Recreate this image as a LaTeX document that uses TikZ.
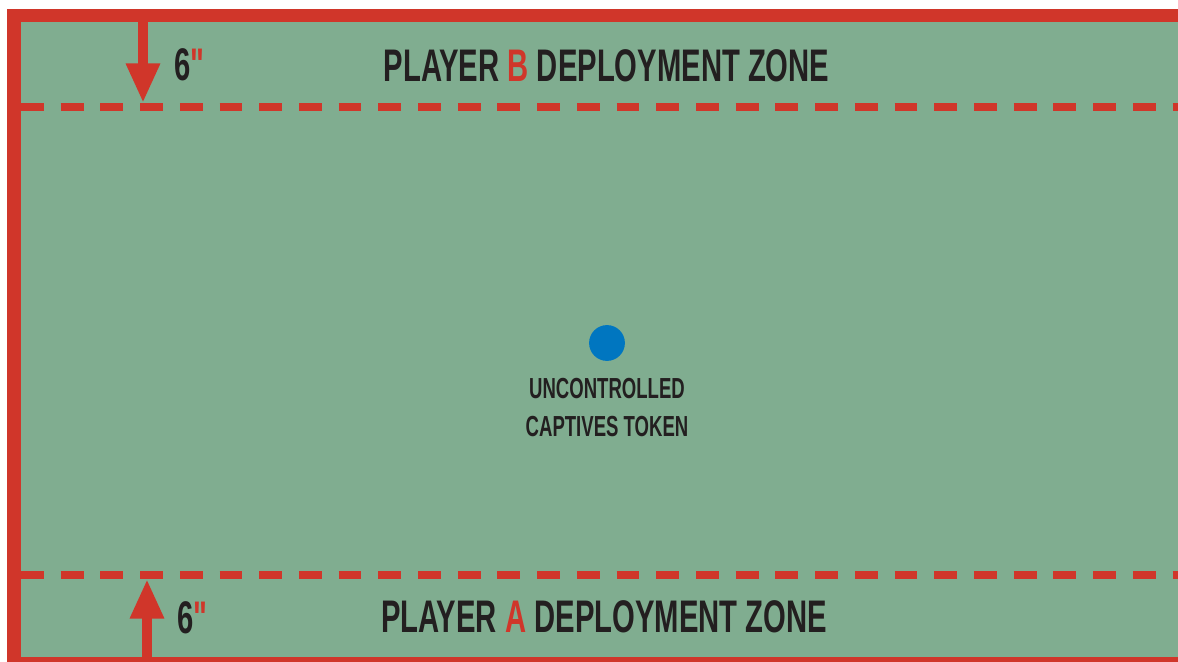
\documentclass[tikz,border=0pt]{standalone}
\usepackage{fontspec}
\usetikzlibrary{positioning, calc, arrows.meta}
\newfontfamily\zonefont[FakeStretch=0.64]{Liberation Sans}
\definecolor{Felt}{HTML}{80AD90}
\definecolor{Edge}{HTML}{D0362A}
\definecolor{Ink}{HTML}{231F20}
\definecolor{Token}{HTML}{0076C0}
\tikzset{
    zonelabel/.style={inner sep=0pt, text=Ink, font=\zonefont\bfseries\fontsize{26}{30}\selectfont},
    tokenlabel/.style={inner sep=0pt, text=Ink, align=center, font=\zonefont\bfseries\fontsize{16.5}{21.5}\selectfont},
    zoneline/.style={draw=Edge, line width=4.5pt, dash pattern=on 13pt off 9.6pt},
    measure/.style={draw=Edge, line width=5.7pt, -{Triangle[width=18pt, length=22.5pt]}},
}
\begin{document}
\begin{tikzpicture}[x=0.02cm, y=-0.02cm]
                \useasboundingbox (0,0) rectangle (1178,662);
                % Table and edges
                \fill[Felt] (21,22) rectangle (1178,657);
                \fill[Edge] (7,9.5) rectangle (1178,22.5);
                \fill[Edge] (7,9.5) rectangle (21,662);
                \fill[Edge] (7,657) rectangle (1178,662);

                % Deployment lines
                \coordinate (lineB) at (21,107);
                \coordinate (lineBend) at (1178,107);
                \coordinate (lineA) at (21,575);
                \coordinate (lineAend) at (1178,575);
                \draw[zoneline] (lineB) -- (lineBend);
                \draw[zoneline] (lineA) -- (lineAend);

                % Distance arrows
                \coordinate (edgeB) at (143,22);
                \coordinate (tipB) at (143,103);
                \coordinate (edgeA) at (147,657);
                \coordinate (tipA) at (147,579);
                \draw[measure] (edgeB) -- (tipB);
                \draw[measure] (edgeA) -- (tipA);
                \node[zonelabel, anchor=west] (distB) at (174,65) {6\textcolor{Edge}{"}};
                \node[zonelabel, anchor=west] (distA) at (177,618) {6\textcolor{Edge}{"}};

                % Zone titles
                \node[zonelabel] (zoneB) at (606.5,65.5) {PLAYER \textcolor{Edge}{B} DEPLOYMENT ZONE};
                \node[zonelabel] (zoneA) at (604,617) {PLAYER \textcolor{Edge}{A} DEPLOYMENT ZONE};

                % Objective
                \node[circle, fill=Token, minimum size=20.4pt, inner sep=0pt] (token) at (607,343) {};
                \node[tokenlabel, below=9.6pt of token] (tokentext) {UNCONTROLLED\\CAPTIVES TOKEN};
            \end{tikzpicture}
\end{document}
